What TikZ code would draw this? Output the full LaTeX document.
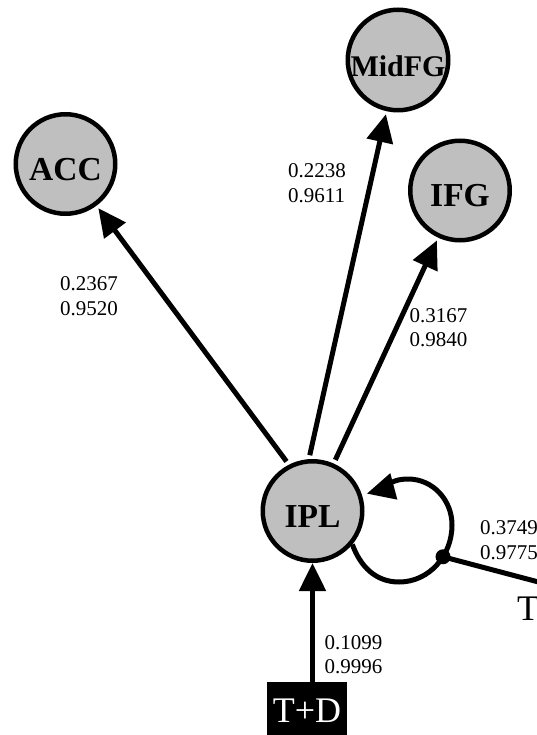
\documentclass[tikz,border=0pt]{standalone}
\usepackage{fontspec}
\setmainfont{Liberation Serif}
\usetikzlibrary{arrows.meta}
\definecolor{nodegray}{RGB}{191,191,191}
\begin{document}
\begin{tikzpicture}[x=1pt,y=1pt,
  region/.style={circle, draw=black, line width=4.5pt, fill=nodegray,
    minimum size=99.5pt, inner sep=0pt, text height=33pt, text depth=0pt,
    font=\fontsize{33.5}{33.5}\selectfont\bfseries},
  link/.style={line width=5pt, -{Triangle[length=28pt,width=26pt]}},
  weight/.style={inner sep=0pt, align=left, font=\fontsize{21}{24.5}\selectfont},
  ext/.style={inner sep=0pt, font=\fontsize{36}{36}\selectfont},
  junction/.style={circle, fill=black, minimum size=15pt, inner sep=0pt}]
\useasboundingbox (0,0) rectangle (537,-735);
\clip (0,0) rectangle (537,-735);
\fill[white] (0,0) rectangle (537,-735);

% brain regions
\node[region] (acc) at (65.5,-164) {ACC};
\node[region, font=\fontsize{30}{30}\selectfont\bfseries] (midfg) at (398,-60) {MidFG};
\node[region] (ifg) at (460,-190.5) {IFG};
\node[region] (ipl) at (312.5,-511) {IPL};

% driving input
\node[fill=black, text=white, font=\fontsize{36}{36}\selectfont,
  minimum width=80pt, minimum height=58pt, inner sep=0pt] (td) at (307,-711) {T+D};

% forward connections
\draw[link, shorten <=4pt, shorten >=3pt] (ipl.117) -- (acc);
\draw[link, shorten <=4pt, shorten >=3pt] (ipl.94) -- (midfg);
\draw[link, shorten <=4pt, shorten >=3pt] (ipl.66) -- (ifg);
\draw[link] (td.north -| ipl.south) -- (ipl.south);

% self connection with modulatory input
\coordinate (lb) at (399,-582);
\coordinate (lr) at (452,-525);
\coordinate (lt) at (408,-479);
\coordinate (tout) at (565,-589);
\draw[link, shorten >=5pt] (ipl.-40) to[out=-70,in=180] (lb)
  to[out=0,in=-90] node[junction,pos=0.62] (junc) {} (lr)
  to[out=90,in=0] (lt) to[out=180,in=15] (ipl.18);
\draw[line width=5pt] (junc.center) -- (tout);

% connection strengths
\node[weight] (wacc) at (89,-296) {0.2367\\0.9520};
\node[weight] (wmid) at (317,-183) {0.2238\\0.9611};
\node[weight] (wifg) at (438.5,-327.5) {0.3167\\0.9840};
\node[weight] (wtd) at (353.5,-654.5) {0.1099\\0.9996};
\node[weight, anchor=west] (wloop) at (480,-540) {0.3749\\0.9775};
\node[ext, anchor=west] (tlab) at (517,-609) {T};
\end{tikzpicture}
\end{document}
